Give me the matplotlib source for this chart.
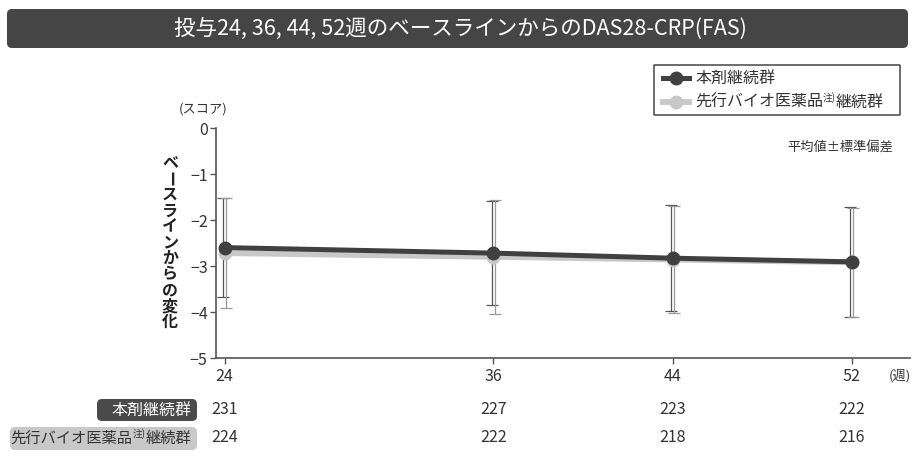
import matplotlib
matplotlib.use('Agg')
import matplotlib.pyplot as plt
from matplotlib.patches import FancyBboxPatch
from matplotlib.lines import Line2D
from matplotlib.transforms import ScaledTranslation, blended_transform_factory

plt.rcParams['font.family'] = ['Noto Sans CJK JP', 'DejaVu Sans']

# data: change from baseline in DAS28-CRP (mean, SD) and number of patients
weeks = [24, 36, 44, 52]
hon_mean = [-2.60, -2.72, -2.83, -2.91]
hon_sd = [1.08, 1.13, 1.15, 1.20]
sen_mean = [-2.72, -2.80, -2.86, -2.92]
sen_sd = [1.19, 1.24, 1.16, 1.19]
hon_n = [231, 227, 223, 222]
sen_n = [224, 222, 218, 216]

title = '投与24, 36, 44, 52週のベースラインからのDAS28-CRP(FAS)'
ylabel = 'ベースラインからの変化'
hon_label = '本剤継続群'
sen_label_a = '先行バイオ医薬品'
sen_label_note = '注)'
sen_label_b = '継続群'

DARK = '#404040'
LIGHT = '#c8c8c8'
TXT = '#333333'

W, H = 915, 457
fig = plt.figure(figsize=(W / 100, H / 100), dpi=100)
inch = fig.dpi_scale_trans


def fx(x):
    return x / W


def fy(y):
    return 1 - y / H


def rbox(x0, y0, x1, y1, color, r=0.05, **kw):
    # rounded box given in pixel coords (top-left origin), kept under the axes
    p = FancyBboxPatch((x0 / 100, (H - y1) / 100), (x1 - x0) / 100, (y1 - y0) / 100,
                       boxstyle='round,pad=0,rounding_size=%g' % r,
                       transform=inch, fc=color, zorder=-1, **kw)
    fig.add_artist(p)
    return p


# title bar
rbox(7, 9, 908, 48, '#454545', ec='none')
fig.text(fx(460), fy(29), title, color='white', fontsize=15.5, ha='center', va='center')

ax = fig.add_axes([fx(216), fy(358), (910 - 216) / W, (358 - 128) / H])
ax.patch.set_visible(False)

ax.plot(weeks, sen_mean, color=LIGHT, lw=4.2, marker='o', ms=9, zorder=3)
ax.plot(weeks, hon_mean, color=DARK, lw=3.6, marker='o', ms=9, zorder=4)

# error bars, nudged sideways so the two groups stay visible
for mean, sd, col, dx in [(hon_mean, hon_sd, '#555555', -1.3), (sen_mean, sen_sd, '#999999', 1.3)]:
    eb = ax.errorbar(weeks, mean, yerr=sd, fmt='none', ecolor=col, elinewidth=0.9,
                     capsize=4, capthick=0.9, zorder=2)
    t = ax.transData + ScaledTranslation(dx / 100, 0, inch)
    for a in list(eb.lines[1]) + list(eb.lines[2]):
        a.set_transform(t)

ax.set_xlim(23.62, 54.6)
ax.set_ylim(-5, 0)
ax.set_xticks(weeks)
ax.set_yticks([0, -1, -2, -3, -4, -5])
for s in ['top', 'right']:
    ax.spines[s].set_visible(False)
for s in ['left', 'bottom']:
    ax.spines[s].set_color('#555555')
    ax.spines[s].set_linewidth(1.2)
ax.tick_params(length=4, width=1, color='#555555', labelcolor=TXT, labelsize=11.5)
ax.tick_params(axis='x', pad=3)
ax.tick_params(axis='y', pad=2)

fig.text(fx(900), fy(376), '(週)', fontsize=9.5, color=TXT, ha='center', va='center')
fig.text(fx(203), fy(109), '(スコア)', fontsize=9.5, color=TXT, ha='center', va='center')
fig.text(fx(893), fy(148), '平均値±標準偏差', fontsize=9.5, color=TXT, ha='right', va='center')

# vertical y label, one glyph per row
for i, ch in enumerate(ylabel):
    fig.text(fx(170), fy(163 + i * 15.9), ch, fontsize=11.5, fontweight='bold', color='#222222',
             ha='center', va='center', rotation=-90 if ch == 'ー' else 0)

# legend
rbox(654, 65, 900, 115, 'none', r=0.0, ec='#333333', lw=1.0)
for yy, col, lw in [(78, DARK, 3.6), (102, LIGHT, 4.2)]:
    fig.add_artist(Line2D([fx(663), fx(676), fx(689)], [fy(yy)] * 3, color=col, lw=lw,
                          marker='o', ms=9, markevery=[1], transform=fig.transFigure))
fig.text(fx(695), fy(78), hon_label, fontsize=11.5, color=TXT, va='center')
t1 = fig.text(fx(695), fy(102), sen_label_a, fontsize=11.5, color=TXT, va='center')
n1 = ax.annotate(sen_label_note, xy=(1, 0.42), xycoords=t1, fontsize=7, color=TXT,
                 ha='left', va='bottom', annotation_clip=False)
ax.annotate(sen_label_b, xy=(1, 0.5), xycoords=(n1, t1),
            fontsize=11.5, color=TXT, ha='left', va='center', annotation_clip=False)

# patient counts under the axis
tr = blended_transform_factory(ax.transData, fig.transFigure)
for x, a, b in zip(weeks, hon_n, sen_n):
    ax.text(x, fy(410), str(a), transform=tr, fontsize=11.5, color=TXT, ha='center', va='center')
    ax.text(x, fy(438), str(b), transform=tr, fontsize=11.5, color=TXT, ha='center', va='center')

rbox(97, 399, 197, 421, '#4a4a4a', r=0.05, ec='none')
fig.text(fx(191), fy(410), hon_label, fontsize=11.5, color='white', ha='right', va='center')
rbox(10, 427, 197, 450, '#c8c8c8', r=0.05, ec='none')
b3 = fig.text(fx(191), fy(438), sen_label_b, fontsize=11, color=TXT, ha='right', va='center')
b2 = ax.annotate(sen_label_note, xy=(0, 0.42), xycoords=b3, fontsize=7, color=TXT,
                 ha='right', va='bottom', annotation_clip=False)
ax.annotate(sen_label_a, xy=(0, 0.5), xycoords=(b2, b3),
            fontsize=11, color=TXT, ha='right', va='center', annotation_clip=False)

fig.savefig('out.png', dpi=100)
